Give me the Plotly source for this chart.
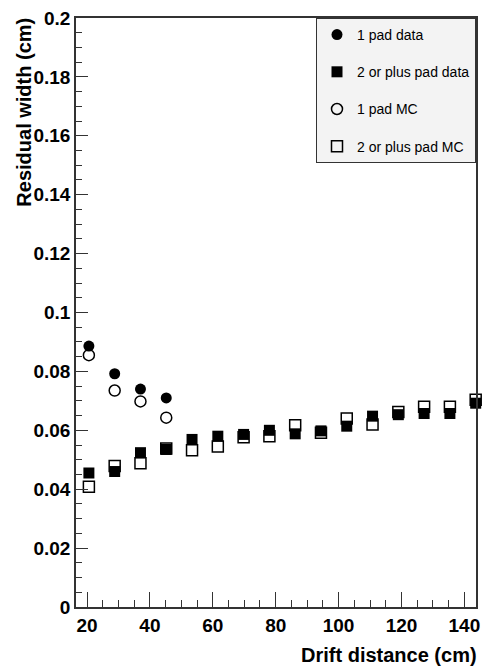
import plotly.graph_objects as go

# ---- data ----
drift = [20.6, 28.8, 37.0, 45.2, 53.4, 61.6, 69.8, 78.0, 86.2, 94.4, 102.6, 110.8, 119.0, 127.2, 135.4, 143.6]
one_pad_data_x = [20.6, 28.8, 37.0, 45.2]
one_pad_data = [0.0886, 0.0792, 0.0740, 0.0710]
one_pad_mc = [0.0855, 0.0735, 0.0698, 0.0643]
multi_pad_data = [0.0455, 0.0460, 0.0524, 0.0535, 0.0569, 0.0580, 0.0586, 0.0600, 0.0588, 0.0598,
                  0.0614, 0.0648, 0.0653, 0.0657, 0.0657, 0.0692]
multi_pad_mc = [0.0408, 0.0479, 0.0488, 0.0538, 0.0532, 0.0545, 0.0576, 0.0580, 0.0617, 0.0592,
                0.0640, 0.0620, 0.0662, 0.0680, 0.0680, 0.0704]

y_tickvals = [0, 0.02, 0.04, 0.06, 0.08, 0.1, 0.12, 0.14, 0.16, 0.18, 0.2]
y_ticktext = ["0", "0.02", "0.04", "0.06", "0.08", "0.1", "0.12", "0.14", "0.16", "0.18", "0.2"]
x_tickvals = [20, 40, 60, 80, 100, 120, 140]
x_ticktext = ["20", "40", "60", "80", "100", "120", "140"]

FONT = "Liberation Sans, Arial, Helvetica, sans-serif"
FRAME = "#333333"

fig = go.Figure()
fig.add_trace(go.Scatter(x=one_pad_data_x, y=one_pad_data, mode="markers", name="1 pad data",
                         legendgroup="a", cliponaxis=False,
                         marker=dict(symbol="circle", size=11, color="black")))
fig.add_trace(go.Scatter(x=drift, y=multi_pad_data, mode="markers", name="2 or plus pad data",
                         legendgroup="b", cliponaxis=False,
                         marker=dict(symbol="square", size=11, color="black")))
fig.add_trace(go.Scatter(x=one_pad_data_x, y=one_pad_mc, mode="markers", name="1 pad MC",
                         legendgroup="c", cliponaxis=False,
                         marker=dict(symbol="circle-open", size=11, color="black",
                                     line=dict(width=1.5, color="black"))))
fig.add_trace(go.Scatter(x=drift, y=multi_pad_mc, mode="markers", name="2 or plus pad MC",
                         legendgroup="d", cliponaxis=False,
                         marker=dict(symbol="square-open", size=11, color="black",
                                     line=dict(width=1.5, color="black"))))

fig.update_layout(
    width=488, height=666,
    margin=dict(l=76, r=8, t=14, b=59),
    paper_bgcolor="white", plot_bgcolor="white",
    font=dict(family=FONT, color="black"),
    showlegend=True,
    legend=dict(x=1, xanchor="right", y=1, yanchor="top",
                bgcolor="#f3f3f3", bordercolor=FRAME, borderwidth=1,
                font=dict(family=FONT, size=14, color="black"),
                tracegroupgap=16, itemwidth=30),
    xaxis=dict(range=[16.5, 143.7], showgrid=False, zeroline=False,
               showline=True, linecolor=FRAME, linewidth=1.5, mirror=True,
               ticks="inside", ticklen=15, tickwidth=1, tickcolor=FRAME,
               tickvals=x_tickvals, ticktext=x_ticktext,
               tickfont=dict(family=FONT, size=19, color="black", weight="bold"),
               minor=dict(ticks="inside", ticklen=7, dtick=5, tick0=0, tickcolor=FRAME, showgrid=False)),
    yaxis=dict(range=[0, 0.2], showgrid=False, zeroline=False,
               showline=True, linecolor=FRAME, linewidth=1.5, mirror=True,
               ticks="inside", ticklen=12, tickwidth=1, tickcolor=FRAME,
               tickvals=y_tickvals, ticktext=y_ticktext,
               tickfont=dict(family=FONT, size=19, color="black", weight="bold"),
               minor=dict(ticks="inside", ticklen=6, dtick=0.005, tick0=0, tickcolor=FRAME, showgrid=False)),
    annotations=[
        dict(text="<b>Drift distance (cm)</b>", xref="paper", yref="paper", x=1.008, y=-0.06,
             xanchor="right", yanchor="top", showarrow=False,
             font=dict(family=FONT, size=20, color="black")),
        dict(text="<b>Residual width (cm)</b>", xref="paper", yref="paper", x=-0.1287, y=1.004,
             xanchor="center", yanchor="top", textangle=-90, showarrow=False,
             font=dict(family=FONT, size=20, color="black")),
    ],
)

fig.write_html("out.html", config={"displayModeBar": False},
               post_script="document.body.style.margin='0';document.body.style.overflow='hidden';")
